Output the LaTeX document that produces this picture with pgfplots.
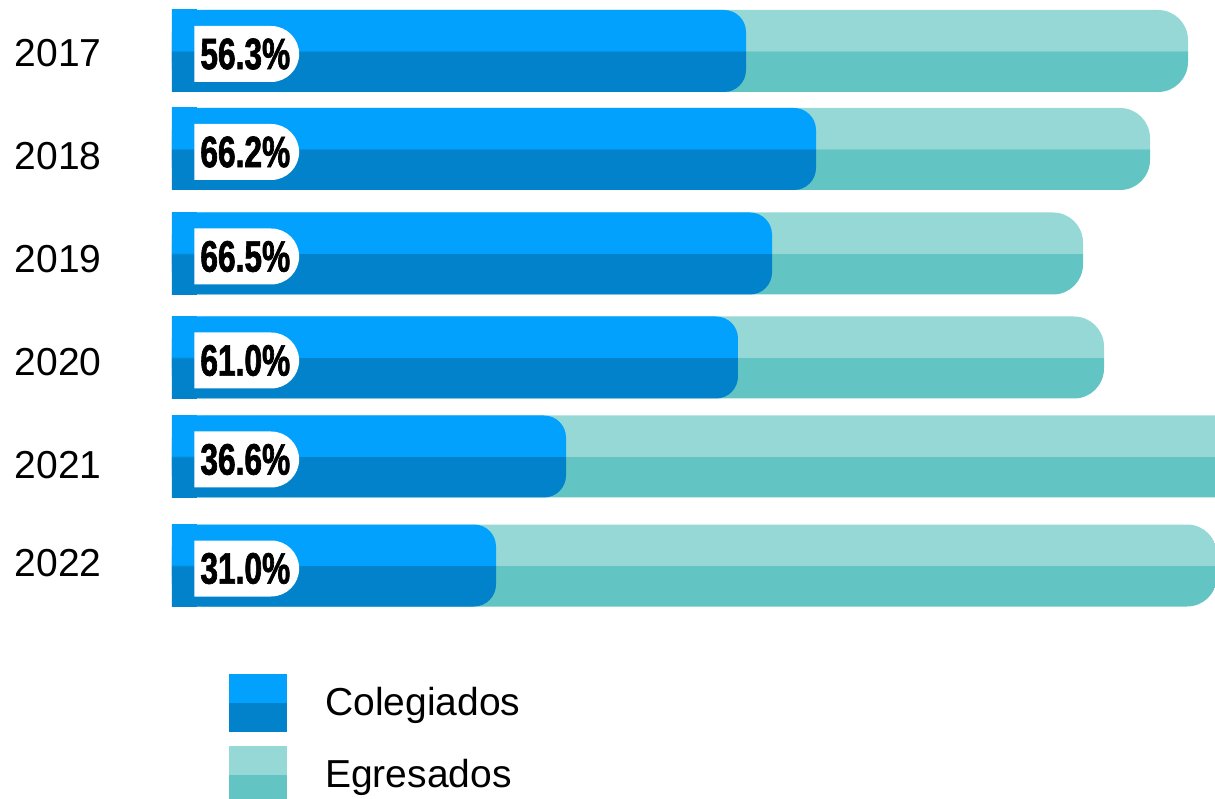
\documentclass[border=0pt]{standalone}
\usepackage{fontspec}
\setmainfont{Liberation Sans}
\newfontfamily\labfont{Liberation Sans}[FakeStretch=0.72, FakeBold=1.5]
\usepackage{pgfplots}
\pgfplotsset{compat=1.18}
\usetikzlibrary{shapes.misc}
\definecolor{blight}{RGB}{2,161,254}
\definecolor{bdark}{RGB}{2,130,203}
\definecolor{tlight}{RGB}{149,216,213}
\definecolor{tdark}{RGB}{98,196,195}
\pgfdeclareverticalshading{blueshade}{100bp}{color(0bp)=(bdark); color(49.8bp)=(bdark); color(50.2bp)=(blight); color(100bp)=(blight)}
\pgfdeclareverticalshading{tealshade}{100bp}{color(0bp)=(tdark); color(49.8bp)=(tdark); color(50.2bp)=(tlight); color(100bp)=(tlight)}
% one bar per plot, so that the two-tone shading fits each bar
\newcommand{\onebar}[3]{\addplot[forget plot, xbar, bar shift=0pt, bar width=41pt, draw=none, shading=#1, #2] coordinates {#3};}
\begin{document}
\begin{tikzpicture}
\begin{axis}[
  name=ax,
  scale only axis, width=521.5pt, height=399pt,
  xmin=0, xmax=1043, ymin=0, ymax=798,
  axis line style={draw=none}, major tick style={draw=none},
  xtick=\empty,
  ytick={744.5,641.5,539,436,333,235},
  yticklabels={2017,2018,2019,2020,2021,2022},
  yticklabel style={font=\fontsize{19.5}{23}\selectfont, inner sep=0pt, anchor=east, xshift=-35pt},
  legend cell align=left,
  legend style={at={(axis cs:57,124)}, anchor=north west, draw=none, fill=none, inner sep=0pt,
    row sep=7pt, column sep=18pt, font=\fontsize{19.5}{23}\selectfont, nodes={inner sep=1pt}},
]
% Egresados (teal)
\onebar{tealshade}{rounded corners=15pt}{(1016,747)}
\onebar{tealshade}{rounded corners=15pt}{(978,649)}
\onebar{tealshade}{rounded corners=15pt}{(911,544.5)}
\onebar{tealshade}{rounded corners=15pt}{(932,440.5)}
\onebar{tealshade}{rounded corners=15pt}{(1076,341.5)}
\onebar{tealshade}{rounded corners=15pt}{(1045,232.5)}
% Colegiados (blue)
\onebar{blueshade}{rounded corners=11pt}{(574,747)}
\onebar{blueshade}{rounded corners=11pt}{(644,649)}
\onebar{blueshade}{rounded corners=11pt}{(600,544.5)}
\onebar{blueshade}{rounded corners=11pt}{(566,440.5)}
\onebar{blueshade}{rounded corners=11pt}{(394,341.5)}
\onebar{blueshade}{rounded corners=11pt}{(324,232.5)}
% square left ends of the blue bars
\onebar{blueshade}{sharp corners}{(25,747)}
\onebar{blueshade}{sharp corners}{(25,649)}
\onebar{blueshade}{sharp corners}{(25,544.5)}
\onebar{blueshade}{sharp corners}{(25,440.5)}
\onebar{blueshade}{sharp corners}{(25,341.5)}
\onebar{blueshade}{sharp corners}{(25,232.5)}
\addlegendimage{legend image code/.code={\fill[blight] (0pt,0pt) rectangle (28.5pt,14.25pt); \fill[bdark] (0pt,-14.25pt) rectangle (28.5pt,0pt);}}
\addlegendentry{Colegiados}
\addlegendimage{legend image code/.code={\fill[tlight] (0pt,0pt) rectangle (28.5pt,14.25pt); \fill[tdark] (0pt,-14.25pt) rectangle (28.5pt,0pt);}}
\addlegendentry{Egresados}
\addplot[forget plot, draw=none, mark=none, point meta=explicit symbolic,
  nodes near coords={\makebox[50pt][l]{\hspace{3pt}\labfont\bfseries\fontsize{22}{24}\selectfont\pgfplotspointmeta\%}},
  every node near coord/.style={draw=none, fill=white, text=black, anchor=west, shape=rounded rectangle,
    rounded rectangle left arc=none, minimum height=28pt, inner sep=0pt}]
table[meta=lab] {
x y lab
22 744 56.3
22 646 66.2
22 541.5 66.5
22 437.5 61.0
22 338.5 36.6
22 229.5 31.0
};
\end{axis}
\pgfresetboundingbox
\useasboundingbox (ax.south west) ++(-86pt,0pt) rectangle (ax.north east);
\end{tikzpicture}
\end{document}
